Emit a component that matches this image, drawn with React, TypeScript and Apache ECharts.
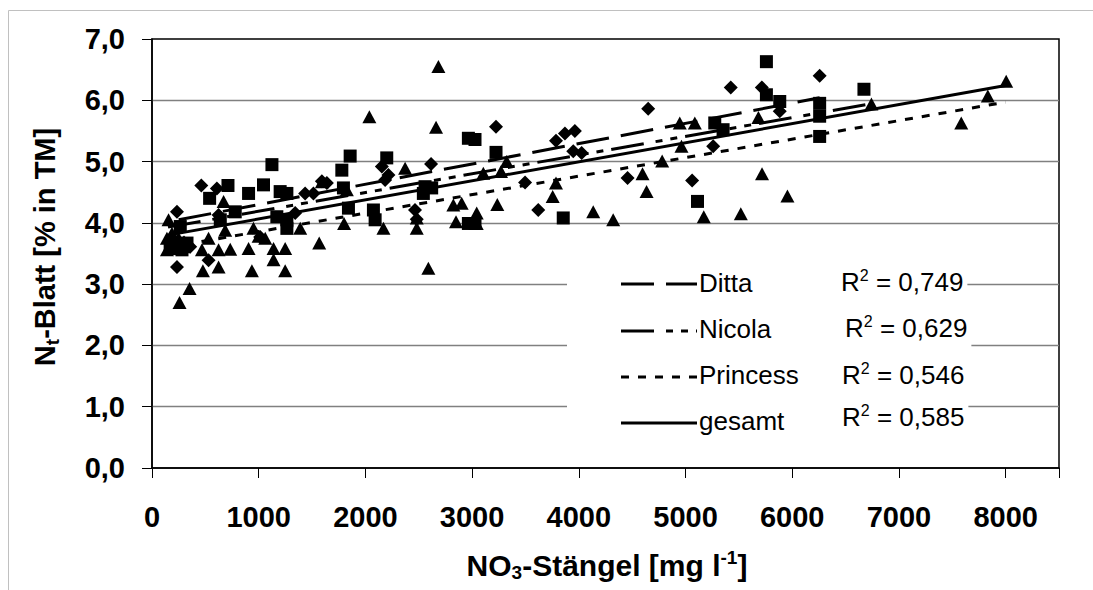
import React, { useEffect, useRef } from 'react';
import * as echarts from 'echarts';

const FONT = '"Liberation Sans", Arial, Helvetica, sans-serif';

// Tick labels
const xTickLabels = ['0', '1000', '2000', '3000', '4000', '5000', '6000', '7000', '8000'];
const yTickLabels = ['0,0', '1,0', '2,0', '3,0', '4,0', '5,0', '6,0', '7,0'];

// Ditta (diamonds)
const dittaPoints: number[][] = [
  [234, 4.18], [234, 3.28], [462, 4.61], [608, 4.56], [530, 3.39], [358, 3.61], [624, 4.13],
  [1014, 3.77], [1342, 4.16], [1435, 4.48], [1513, 4.48], [1592, 4.68], [1639, 4.65],
  [2154, 4.92], [2216, 4.78], [2185, 4.70], [2615, 4.96], [2465, 4.21], [2481, 4.06],
  [3224, 5.57], [3496, 4.66], [3620, 4.21], [3786, 5.34], [3870, 5.46], [3963, 5.50],
  [3948, 5.17], [4026, 5.14], [4457, 4.73], [4650, 5.86], [5062, 4.69], [5259, 5.25],
  [5424, 6.21], [5715, 6.21], [5883, 5.82], [6257, 6.40], [180, 3.72], [300, 3.68],
];

// Nicola (squares)
const nicolaPoints: number[][] = [
  [540, 4.40], [712, 4.61], [780, 4.18], [640, 4.05], [265, 3.94], [218, 3.58], [281, 3.56],
  [328, 3.67], [905, 4.48], [1045, 4.62], [1124, 4.95], [1201, 4.51], [1264, 4.48],
  [1170, 4.10], [1264, 4.05], [1264, 3.91], [1779, 4.86], [1857, 5.09], [1794, 4.57],
  [1841, 4.24], [2075, 4.21], [2091, 4.05], [2200, 5.06], [2543, 4.48], [2559, 4.59],
  [2621, 4.57], [2965, 5.38], [3027, 5.36], [3224, 5.15], [3854, 4.08], [2965, 3.99],
  [3027, 3.99], [5112, 4.35], [5274, 5.63], [5352, 5.52], [5758, 6.63], [5758, 6.09],
  [5883, 5.98], [6257, 5.95], [6257, 5.74], [6257, 5.41], [6672, 6.18], [170, 3.62],
];

// Princess (triangles)
const princessPoints: number[][] = [
  [2684, 6.55], [2037, 5.73], [2662, 5.56], [2372, 4.89], [3105, 4.81], [3271, 4.84],
  [3324, 5.00], [3786, 4.65], [3755, 4.43], [3236, 4.30], [2824, 4.29], [2902, 4.32],
  [2849, 4.02], [3043, 4.16], [3043, 3.99], [2481, 3.91], [2481, 4.08], [2590, 3.26],
  [2169, 3.91], [1800, 3.99], [1826, 4.54], [1592, 4.67], [1567, 3.67], [1389, 3.91],
  [1248, 3.58], [1248, 3.22], [1139, 3.58], [1139, 3.40], [905, 3.58], [936, 3.22],
  [951, 3.91], [733, 3.57], [671, 4.35], [686, 3.88], [624, 3.56], [624, 3.28], [477, 3.22],
  [468, 3.56], [530, 3.75], [352, 2.93], [258, 2.70], [155, 4.05], [140, 3.75], [140, 3.56],
  [202, 3.67], [296, 3.61], [249, 3.75], [187, 3.83], [999, 3.78], [1061, 3.75],
  [8005, 6.31], [7833, 6.07], [7584, 5.63], [6742, 5.94], [5955, 4.44], [5717, 4.80],
  [5683, 5.72], [5518, 4.15], [5171, 4.10], [5087, 5.63], [4946, 5.63], [4962, 5.25],
  [4781, 5.01], [4597, 4.80], [4635, 4.51], [4322, 4.05], [4135, 4.18],
];

// Trendline endpoints
const dittaTrend: number[][] = [[250, 4.05], [6257, 6.04]];
const nicolaTrend: number[][] = [[150, 3.93], [6700, 5.93]];
const princessTrend: number[][] = [[150, 3.60], [8000, 5.97]];
const gesamtTrend: number[][] = [[150, 3.80], [8000, 6.24]];

const legendNames = ['Ditta', 'Nicola', 'Princess', 'gesamt'];
const r2Values = ['0,749', '0,629', '0,546', '0,585'];

const DASH_DITTA = [33, 12];
const DASH_NICOLA = [33, 12, 7, 8, 7, 8];
const DASH_PRINCESS = [8, 9];

export default function App() {
  const ref = useRef<HTMLDivElement>(null);
  useEffect(() => {
    const chart = echarts.init(ref.current!, null, { renderer: 'svg' });
    const lineSeries = (name: string, data: number[][], type: any) => ({
      type: 'line',
      name,
      data,
      showSymbol: false,
      symbol: 'none',
      z: 4,
      lineStyle: { color: '#000', width: 3, type, opacity: 1 },
      silent: true,
    });
    const legendY = [284, 331, 377, 423];
    const legendTextY = [283, 329, 375, 421];
    const r2X = [841, 845, 842, 842];
    const r2Y = [282, 328, 375, 417];
    const dashes: any[] = [DASH_DITTA, DASH_NICOLA, DASH_PRINCESS, 'solid'];
    const legendFont = { fontSize: 26, fontFamily: FONT, fill: '#000' };
    const graphics: any[] = [
      {
        type: 'rect', z: -10, silent: true,
        shape: { x: 8.5, y: 10.5, width: 1300, height: 800 },
        style: { fill: 'none', stroke: '#c0c0c0', lineWidth: 1 },
      },
      {
        type: 'rect', z: 100, silent: true,
        shape: { x: 567, y: 262, width: 278, height: 170 },
        style: { fill: '#fff' },
      },
    ];
    legendNames.forEach((n, i) => {
      graphics.push({
        type: 'line', z: 101, silent: true,
        shape: { x1: 621, y1: legendY[i], x2: 697, y2: legendY[i] },
        style: { stroke: '#000', lineWidth: 3, lineDash: dashes[i] === 'solid' ? null : dashes[i] },
      });
      graphics.push({
        type: 'text', z: 101, silent: true, x: 699, y: legendTextY[i],
        style: { text: n, ...legendFont, align: 'left', verticalAlign: 'middle' },
      });
      graphics.push({
        type: 'text', z: 101, silent: true, x: r2X[i], y: r2Y[i],
        style: {
          text: `{a|R}{p|2}{a| = ${r2Values[i]}}`,
          align: 'left', verticalAlign: 'middle',
          backgroundColor: '#fff', padding: [4, 4, 4, 0],
          rich: {
            a: { fontSize: 26, fontFamily: FONT, fill: '#000', lineHeight: 30 },
            p: { fontSize: 16, fontFamily: FONT, fill: '#000', lineHeight: 15, verticalAlign: 'top' },
          },
        },
      });
    });
    // axis titles
    graphics.push({
      type: 'text', z: 101, silent: true, x: 45, y: 247, rotation: Math.PI / 2,
      style: {
        text: '{a|N}{s|t}{a|-Blatt [% in TM]}',
        align: 'center', verticalAlign: 'middle',
        rich: {
          a: { fontSize: 29, fontWeight: 'bold', fontFamily: FONT, fill: '#000', lineHeight: 34 },
          s: { fontSize: 19, fontWeight: 'bold', fontFamily: FONT, fill: '#000', lineHeight: 16, verticalAlign: 'bottom' },
        },
      },
    });
    graphics.push({
      type: 'text', z: 101, silent: true, x: 607, y: 565,
      style: {
        text: '{a|NO}{s|3}{a|-Stängel [mg l}{p|-1}{a|]}',
        align: 'center', verticalAlign: 'middle',
        rich: {
          a: { fontSize: 30, fontWeight: 'bold', fontFamily: FONT, fill: '#000', lineHeight: 34 },
          s: { fontSize: 19, fontWeight: 'bold', fontFamily: FONT, fill: '#000', lineHeight: 16, verticalAlign: 'bottom' },
          p: { fontSize: 19, fontWeight: 'bold', fontFamily: FONT, fill: '#000', lineHeight: 16, verticalAlign: 'top' },
        },
      },
    });

    const labelStyle = { fontSize: 29, fontWeight: 'bold' as const, color: '#000', fontFamily: FONT };
    const markerStyle = { color: '#000', opacity: 1 };
    chart.setOption({
      animation: false,
      backgroundColor: '#fff',
      grid: {
        left: 152, right: 34, top: 39, bottom: 122,
        show: true, borderColor: '#000', borderWidth: 1.5, backgroundColor: 'transparent',
        containLabel: false, outerBoundsMode: 'none',
      },
      xAxis: {
        type: 'value', min: 0, max: 8500, interval: 1000,
        axisLine: { show: true, lineStyle: { color: '#000', width: 1.5 } },
        axisTick: { show: true, length: 10, lineStyle: { color: '#000', width: 1 } },
        axisLabel: {
          ...labelStyle, margin: 34,
          formatter: (v: number) => (v % 1000 === 0 ? xTickLabels[v / 1000] ?? '' : ''),
        },
        splitLine: { show: false },
      },
      yAxis: {
        type: 'value', min: 0, max: 7, interval: 1,
        axisLine: { show: true, lineStyle: { color: '#000', width: 1.5 } },
        axisTick: { show: true, length: 10, lineStyle: { color: '#000', width: 1 } },
        axisLabel: {
          ...labelStyle, margin: 27,
          formatter: (v: number) => yTickLabels[Math.round(v)] ?? '',
        },
        splitLine: { show: true, showMaxLine: false, showMinLine: false, lineStyle: { color: '#808080', width: 1.3 } },
      },
      series: [
        { type: 'scatter', name: 'Ditta', data: dittaPoints, symbol: 'diamond', symbolSize: 14, itemStyle: markerStyle, z: 3, silent: true },
        { type: 'scatter', name: 'Nicola', data: nicolaPoints, symbol: 'rect', symbolSize: 13, itemStyle: markerStyle, z: 3, silent: true },
        { type: 'scatter', name: 'Princess', data: princessPoints, symbol: 'triangle', symbolSize: [14, 13], itemStyle: markerStyle, z: 3, silent: true },
        lineSeries('Ditta trend', dittaTrend, DASH_DITTA),
        lineSeries('Nicola trend', nicolaTrend, DASH_NICOLA),
        lineSeries('Princess trend', princessTrend, DASH_PRINCESS),
        lineSeries('gesamt trend', gesamtTrend, 'solid'),
      ],
      graphic: graphics,
    });
    return () => chart.dispose();
  }, []);
  return (
    <div
      ref={ref}
      style={{ position: 'absolute', left: 0, top: 0, width: 1093, height: 590, background: '#fff' }}
    />
  );
}
